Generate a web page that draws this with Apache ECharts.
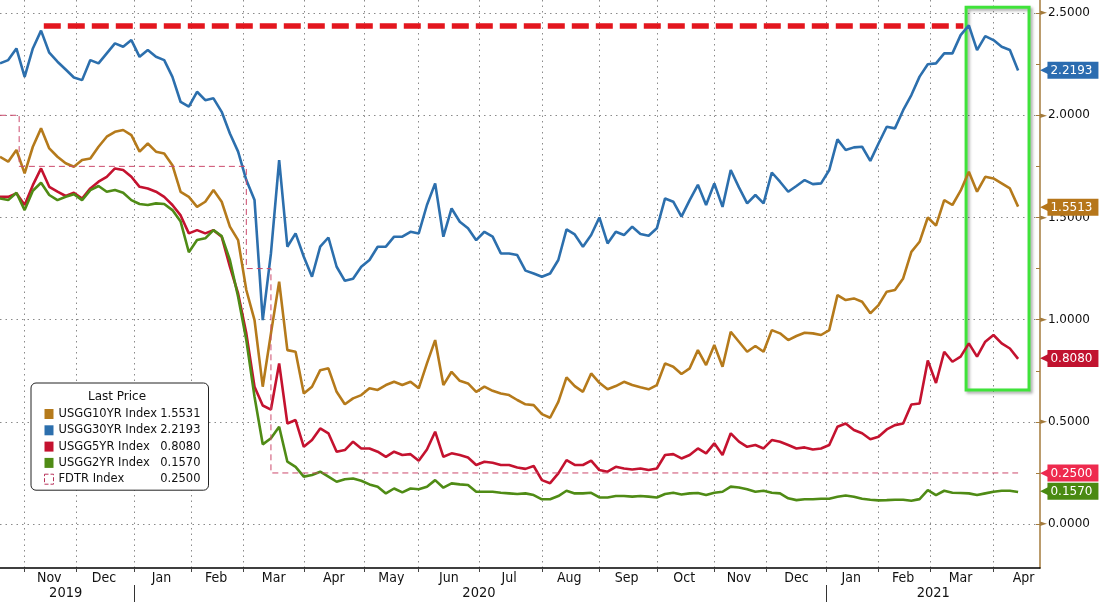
<!DOCTYPE html>
<html><head><meta charset="utf-8">
<script src="https://cdn.jsdelivr.net/npm/echarts@6/dist/echarts.min.js"></script>
<style>html,body{margin:0;padding:0;background:#fff}#c{width:1099px;height:602px}</style>
</head><body><div id="c"></div>
<script>
// ---------- data ----------
const START_DATE = '2019-10-21';
const END_DATE = '2021-04-26';
const CAL_END = '2021-04-30';
const HOLIDAYS = ['2019-11-11','2019-11-28','2019-12-25','2020-01-01','2020-01-20','2020-02-17',
  '2020-05-25','2020-09-07','2020-10-12','2020-11-11','2020-11-26','2020-12-25',
  '2021-01-01','2021-01-18','2021-02-15'];
const MONTH_NAMES = ['Jan','Feb','Mar','Apr','May','Jun','Jul','Aug','Sep','Oct','Nov','Dec'];
const SAMPLE_STEP = 3; // one reading every 3 trading days, from START_DATE

const y10 = [
  1.797,1.773,1.83,1.716,1.846,1.936,1.838,1.797,1.765,1.748,
  1.781,1.789,1.846,1.895,1.919,1.928,1.903,1.822,1.862,1.822,
  1.813,1.756,1.625,1.601,1.552,1.577,1.634,1.577,1.455,1.389,
  1.145,0.998,0.672,0.933,1.186,0.851,0.843,0.639,0.672,0.753,
  0.762,0.647,0.586,0.615,0.631,0.664,0.656,0.68,0.696,0.68,
  0.696,0.664,0.786,0.9,0.68,0.745,0.701,0.688,0.647,0.672,
  0.652,0.639,0.631,0.607,0.586,0.582,0.538,0.52,0.598,0.718,
  0.675,0.647,0.737,0.691,0.66,0.675,0.696,0.68,0.669,0.659,
  0.68,0.786,0.77,0.734,0.762,0.851,0.778,0.876,0.77,0.941,
  0.892,0.843,0.871,0.843,0.949,0.933,0.9,0.92,0.936,0.933,
  0.925,0.949,1.12,1.096,1.104,1.088,1.031,1.071,1.137,1.145,
  1.202,1.332,1.381,1.5,1.46,1.585,1.561,1.631,1.724,1.626,
  1.699,1.691,1.667,1.642,1.5531];
const y30 = [
  2.254,2.27,2.327,2.188,2.327,2.414,2.306,2.262,2.224,2.185,
  2.172,2.27,2.254,2.303,2.352,2.335,2.368,2.286,2.319,2.286,
  2.27,2.188,2.065,2.042,2.115,2.074,2.083,2.017,1.911,1.822,
  1.683,1.585,0.998,1.324,1.781,1.357,1.422,1.308,1.21,1.357,
  1.402,1.259,1.19,1.2,1.259,1.292,1.357,1.357,1.406,1.406,
  1.43,1.422,1.561,1.667,1.406,1.544,1.479,1.447,1.389,1.43,
  1.406,1.324,1.324,1.316,1.24,1.226,1.21,1.226,1.292,1.442,
  1.417,1.357,1.414,1.5,1.373,1.43,1.414,1.455,1.419,1.411,
  1.447,1.593,1.577,1.504,1.585,1.66,1.561,1.667,1.552,1.732,
  1.647,1.569,1.61,1.569,1.72,1.675,1.626,1.654,1.683,1.663,
  1.667,1.732,1.882,1.83,1.843,1.846,1.777,1.862,1.944,1.936,
  2.025,2.099,2.189,2.25,2.254,2.303,2.303,2.392,2.44,2.319,
  2.387,2.368,2.335,2.319,2.2193];
const y5 = [
  1.601,1.601,1.618,1.561,1.658,1.74,1.65,1.626,1.605,1.621,
  1.593,1.642,1.675,1.699,1.74,1.732,1.699,1.65,1.642,1.626,
  1.601,1.561,1.51,1.422,1.438,1.422,1.438,1.406,1.259,1.128,
  0.933,0.672,0.58,0.56,0.786,0.492,0.509,0.378,0.411,0.468,
  0.444,0.354,0.362,0.403,0.37,0.37,0.354,0.329,0.354,0.338,
  0.342,0.31,0.365,0.452,0.329,0.346,0.338,0.326,0.289,0.305,
  0.3,0.289,0.289,0.277,0.27,0.284,0.215,0.2,0.248,0.313,
  0.289,0.289,0.31,0.264,0.256,0.28,0.272,0.267,0.272,0.264,
  0.272,0.338,0.342,0.321,0.338,0.37,0.346,0.395,0.338,0.444,
  0.403,0.378,0.387,0.37,0.411,0.403,0.387,0.37,0.375,0.365,
  0.37,0.387,0.476,0.492,0.46,0.444,0.415,0.427,0.463,0.484,
  0.492,0.585,0.59,0.8,0.69,0.843,0.794,0.819,0.884,0.819,
  0.892,0.925,0.884,0.859,0.808];
const y2 = [
  1.593,1.585,1.621,1.536,1.631,1.67,1.61,1.585,1.601,1.614,
  1.585,1.634,1.654,1.626,1.634,1.621,1.585,1.566,1.561,1.569,
  1.566,1.536,1.48,1.33,1.39,1.398,1.438,1.409,1.292,1.112,
  0.9,0.623,0.39,0.42,0.476,0.305,0.28,0.232,0.24,0.256,
  0.232,0.207,0.219,0.223,0.212,0.194,0.183,0.15,0.174,0.155,
  0.174,0.17,0.183,0.215,0.178,0.199,0.194,0.191,0.158,0.158,
  0.158,0.153,0.15,0.147,0.15,0.142,0.121,0.121,0.137,0.163,
  0.15,0.15,0.153,0.13,0.13,0.137,0.137,0.134,0.137,0.134,
  0.13,0.147,0.153,0.145,0.15,0.152,0.142,0.153,0.158,0.183,
  0.179,0.17,0.158,0.163,0.153,0.15,0.126,0.117,0.121,0.121,
  0.124,0.124,0.134,0.14,0.134,0.124,0.119,0.116,0.117,0.119,
  0.119,0.114,0.122,0.166,0.142,0.163,0.153,0.152,0.15,0.142,
  0.15,0.158,0.163,0.163,0.157];
const FDTR_STEPS = [['2019-10-21',2.00],['2019-10-30',1.75],['2020-03-03',1.25],['2020-03-16',0.25],['2021-04-14',0.25]];

const SERIES_NAMES = ['USGG10YR Index','USGG30YR Index','USGG5YR Index','USGG2YR Index','FDTR Index'];
const LEGEND_VALUES = ['1.5531','2.2193','0.8080','0.1570','0.2500'];
const TAG_TEXTS = ['1.5513','2.2193','0.8080','0.1570','0.2500'];
const TAG_VALUES = [1.5513, 2.2193, 0.808, 0.157, 0.25];

const Y_MIN = -0.215, Y_MAX = 2.564;
const Y_LABEL_VALUES = [0, 0.5, 1, 1.5, 2, 2.5];
const Y_TICK_VALUES = [0, 0.25, 0.5, 0.75, 1, 1.25, 1.5, 1.75, 2, 2.25, 2.5];

const PEAK_LINE = { from: '2019-11-13', to: '2021-03-17', level: 2.436 };
const BOX = { from: '2021-03-18', to: '2021-04-20', top: 2.529, bottom: 0.656 };

// ---------- styles ----------
const COLORS = ['#b57a1b', '#2c6fad', '#c4122f', '#4f8b15', '#cc4a6c'];
const TAG_COLORS = ['#b6761a', '#2b6cb0', '#c1132f', '#4a8a12', '#ee2a4e'];
const AXIS_COLOR = '#a47b3c';
const FONT = "'DejaVu Sans', Verdana, sans-serif";
const NARROW = "'Liberation Sans Narrow', 'DejaVu Sans Condensed', 'Liberation Sans', sans-serif";

// ---------- trading-day categories ----------
function tradingDays(from, to) {
  const out = [];
  const d = new Date(from + 'T00:00:00Z'), e = new Date(to + 'T00:00:00Z');
  while (d <= e) {
    const wd = d.getUTCDay();
    const s = d.toISOString().slice(0, 10);
    if (wd !== 0 && wd !== 6 && HOLIDAYS.indexOf(s) < 0) out.push(s);
    d.setUTCDate(d.getUTCDate() + 1);
  }
  return out;
}
const allDays = tradingDays(START_DATE, CAL_END);
const categories = allDays.filter(s => s <= END_DATE);
const N = categories.length;

const monthStart = new Set(), monthLabel = {};
for (let i = 0; i < allDays.length;) {
  const key = allDays[i].slice(0, 7);
  let j = i; while (j < allDays.length && allDays[j].slice(0, 7) === key) j++;
  if (i > 0) {
    monthStart.add(i);
    const mid = Math.floor(i + (j - i) / 2);
    if (mid < N) monthLabel[mid] = MONTH_NAMES[+key.slice(5, 7) - 1];
  }
  i = j;
}
const yearStart = new Set(), yearLabel = {};
for (let a = 0; a < N;) {
  const y = categories[a].slice(0, 4);
  let b = a; while (b < N && categories[b].slice(0, 4) === y) b++;
  if (a > 0) yearStart.add(a);
  yearLabel[Math.floor((a + Math.min(b, N - 1)) / 2)] = y;
  a = b;
}
const idx = d => categories.indexOf(d);
const sampled = arr => arr.map((v, i) => [i * SAMPLE_STEP, v]);

function tagLine(k) {
  return {
    silent: true, symbol: 'none', animation: false,
    lineStyle: { color: 'rgba(0,0,0,0)', width: 0, type: 'solid' },
    label: {
      show: true, position: 'end', distance: 0,
      formatter: '{a|◀}{b|' + TAG_TEXTS[k] + '}',
      rich: {
        a: { color: TAG_COLORS[k], fontSize: 11, fontFamily: FONT, padding: [0, -1, 0, 0] },
        b: { backgroundColor: TAG_COLORS[k], color: '#fff', fontSize: 12, fontFamily: FONT, padding: [3, 6, 2, 3] }
      }
    },
    data: [{ yAxis: TAG_VALUES[k] }]
  };
}

const seriesVals = [y10, y30, y5, y2];
const series = seriesVals.map((vals, k) => ({
  name: SERIES_NAMES[k], type: 'line', data: sampled(vals),
  xAxisIndex: 0, yAxisIndex: 0,
  symbol: 'none', color: COLORS[k],
  lineStyle: { width: 2.6, color: COLORS[k] },
  markLine: tagLine(k)
}));
// annotations on the 30Y series
series[1].markLine.data.push([
  { coord: [idx(PEAK_LINE.from), PEAK_LINE.level], lineStyle: { color: '#e3161e', width: 5.5, type: [17, 7] }, label: { show: false } },
  { coord: [idx(PEAK_LINE.to), PEAK_LINE.level] }
]);
series[1].markArea = {
  silent: true,
  itemStyle: { color: 'rgba(0,0,0,0)', borderColor: '#3fe33a', borderWidth: 3,
    shadowColor: 'rgba(0,0,0,0.35)', shadowBlur: 3, shadowOffsetX: 2, shadowOffsetY: 2 },
  data: [[{ coord: [idx(BOX.from), BOX.top] }, { coord: [idx(BOX.to), BOX.bottom] }]]
};
series.push({
  name: SERIES_NAMES[4], type: 'line', step: 'end',
  data: FDTR_STEPS.map(([d, v]) => [idx(d), v]),
  symbol: 'none', color: COLORS[4],
  lineStyle: { width: 1, type: [6, 4], color: COLORS[4] },
  markLine: tagLine(4)
});

const dotted = { color: '#8a8a8a', width: 1, type: [1.5, 4] };

const option = {
  animation: false,
  backgroundColor: '#fff',
  textStyle: { fontFamily: FONT },
  grid: { left: 0, right: 59, top: 0, bottom: 34, containLabel: false },
  title: {
    text: 'Last Price', left: 88, top: 391, padding: 0, z: 10,
    textStyle: { fontSize: 12, fontWeight: 'normal', color: '#111', fontFamily: FONT }
  },
  legend: {
    orient: 'vertical', left: 31, top: 383, selectedMode: false,
    padding: [25, 8, 5, 13], itemGap: 4.3, itemWidth: 9, itemHeight: 10,
    backgroundColor: '#fff', borderColor: '#222', borderWidth: 1, borderRadius: 5,
    data: SERIES_NAMES.map((n, k) => k === 4
      ? { name: n, icon: 'rect', itemStyle: { color: '#fff', borderColor: '#b8325a', borderWidth: 1, borderType: 'dashed' } }
      : { name: n, icon: 'rect', itemStyle: { color: COLORS[k], borderWidth: 0 } }),
    formatter: n => '{n|' + n + '}{v|' + LEGEND_VALUES[SERIES_NAMES.indexOf(n)] + '}',
    textStyle: {
      color: '#111', fontFamily: FONT, fontSize: 11.5,
      rich: {
        n: { width: 100, fontSize: 11.5, lineHeight: 14, fontFamily: FONT, color: '#111' },
        v: { width: 42, align: 'right', fontSize: 11.5, lineHeight: 14, fontFamily: FONT, color: '#111' }
      }
    }
  },
  xAxis: [{
    type: 'category', data: categories, boundaryGap: false, position: 'bottom',
    axisLine: { show: true, onZero: false, lineStyle: { color: '#000', width: 1.5 } },
    axisTick: { show: true, length: 4, interval: i => monthStart.has(i), lineStyle: { color: '#444' } },
    axisLabel: {
      show: true, interval: i => monthLabel[i] !== undefined, margin: 3,
      formatter: (v, i) => monthLabel[i] || '',
      fontFamily: NARROW, fontSize: 14, color: '#111'
    },
    splitLine: { show: true, interval: i => monthStart.has(i), lineStyle: dotted }
  }, {
    type: 'category', data: categories, boundaryGap: false, position: 'bottom', offset: 17,
    axisLine: { show: false, onZero: false },
    axisTick: { show: true, length: 17, interval: i => yearStart.has(i), lineStyle: { color: '#333' } },
    axisLabel: {
      show: true, interval: i => yearLabel[i] !== undefined, margin: 1,
      formatter: (v, i) => yearLabel[i] || '',
      fontFamily: NARROW, fontSize: 14.5, color: '#111'
    },
    splitLine: { show: false }
  }],
  yAxis: [{
    type: 'value', position: 'right', min: Y_MIN, max: Y_MAX,
    axisLine: { show: true, onZero: false, lineStyle: { color: AXIS_COLOR, width: 1.5 } },
    axisTick: { show: true, inside: true, length: 4, customValues: Y_TICK_VALUES, lineStyle: { color: AXIS_COLOR } },
    axisLabel: {
      show: true, margin: 0, customValues: Y_LABEL_VALUES,
      formatter: v => '{t|►}{v|' + Number(v).toFixed(4) + '}',
      rich: {
        t: { color: AXIS_COLOR, fontSize: 9, fontFamily: FONT, padding: [0, 1, 0, 0] },
        v: { color: '#111', fontSize: 12, fontFamily: FONT }
      }
    },
    splitLine: { show: false }
  }, {
    type: 'value', position: 'right', min: Y_MIN, max: Y_MAX,
    axisLine: { show: false },
    axisTick: { show: false, customValues: Y_LABEL_VALUES },
    axisLabel: { show: false, customValues: Y_LABEL_VALUES },
    splitLine: { show: true, lineStyle: dotted }
  }],
  series: series
};

const chart = echarts.init(document.getElementById('c'), null, { renderer: 'canvas' });
chart.setOption(option);
</script>
</body></html>
